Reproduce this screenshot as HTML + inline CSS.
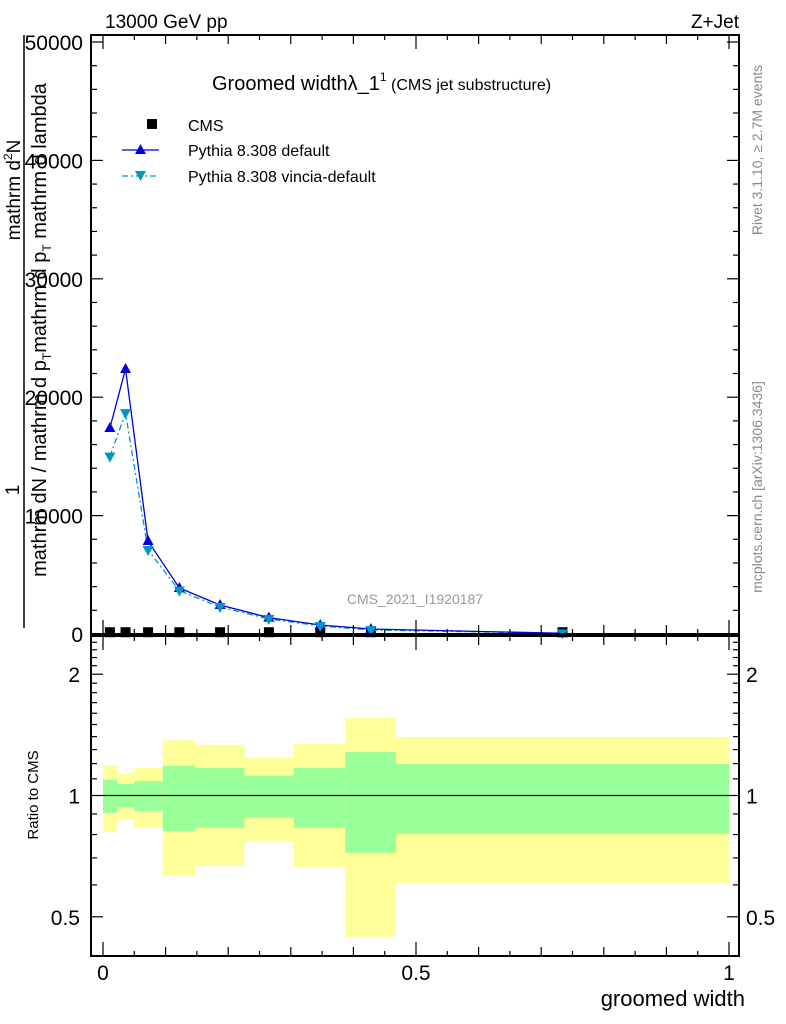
<!DOCTYPE html>
<html><head><meta charset="utf-8"><style>
html,body{margin:0;padding:0;background:#fff;}
svg{display:block;font-family:"Liberation Sans",sans-serif;}
</style></head><body>
<svg id="chart" width="786" height="1024" viewBox="0 0 786 1024" xmlns="http://www.w3.org/2000/svg">
<g id="bands"></g>
<g id="marks"></g>
<g id="axes"></g>
<text x="105" y="28" font-size="19">13000 GeV pp</text>
<text x="739" y="28" font-size="19" text-anchor="end">Z+Jet</text>
<text x="212" y="90" font-size="20">Groomed width&#955;_1<tspan font-size="12" dy="-9">1</tspan><tspan font-size="16" dy="9"> (CMS jet substructure)</tspan></text>
<g>
<rect x="147" y="119" width="10" height="10" fill="#000"/>
<text x="188" y="131" font-size="16">CMS</text>
<line x1="122" y1="150" x2="159" y2="150" stroke="#0000dd" stroke-width="1.3"/>
<polygon points="140.5,144 135,154 146,154" fill="#0000dd"/>
<text x="188" y="156" font-size="16">Pythia 8.308 default</text>
<line x1="122" y1="176" x2="159" y2="176" stroke="#0099bb" stroke-width="1.3" stroke-dasharray="6,3,2,3"/>
<polygon points="135,171 146,171 140.5,181" fill="#0099bb"/>
<text x="188" y="182" font-size="16">Pythia 8.308 vincia-default</text>
</g>
<text x="415" y="604" font-size="14" fill="#999" text-anchor="middle">CMS_2021_I1920187</text>
<text transform="translate(762,150) rotate(-90)" font-size="14" fill="#888" text-anchor="middle">Rivet 3.1.10, ≥ 2.7M events</text>
<text transform="translate(762,487) rotate(-90)" font-size="14" fill="#888" text-anchor="middle">mcplots.cern.ch [arXiv:1306.3436]</text>
<g>
<text transform="translate(20,190) rotate(-90)" font-size="19" text-anchor="middle">mathrm d<tspan font-size="12" dy="-8">2</tspan><tspan dy="8">N</tspan></text>
<text transform="translate(19,490) rotate(-90)" font-size="19" text-anchor="middle">1</text>
<line x1="24" y1="35" x2="24" y2="628" stroke="#000" stroke-width="1.5"/>
<text transform="translate(46,330) rotate(-90)" font-size="20" text-anchor="middle">mathrm dN / mathrm d p<tspan font-size="12" dy="5">T</tspan><tspan dy="-5">mathrm d p</tspan><tspan font-size="12" dy="5">T</tspan><tspan dy="-5"> mathrm d lambda</tspan></text>
</g>
<text transform="translate(38,795) rotate(-90)" font-size="15" text-anchor="middle">Ratio to CMS</text>
<text x="745" y="1006" font-size="22" text-anchor="end">groomed width</text>
</svg>
<script>
const binEdges=[0,0.0225,0.05,0.0955,0.147,0.226,0.305,0.387,0.468,1.0];
const binCenters=[0.011,0.036,0.072,0.122,0.187,0.265,0.347,0.428,0.734];
const cmsValues=[150,150,150,150,150,150,150,150,150];
const defaultValues=[17400,22380,7850,3890,2450,1380,760,420,60];
const vinciaValues=[14980,18660,7090,3660,2280,1270,680,340,50];
const yellowHi=[1.190,1.131,1.172,1.371,1.335,1.241,1.342,1.557,1.397];
const yellowLo=[0.813,0.869,0.832,0.635,0.669,0.768,0.665,0.446,0.607];
const greenHi=[1.094,1.068,1.086,1.186,1.170,1.120,1.170,1.282,1.197];
const greenLo=[0.905,0.935,0.915,0.816,0.832,0.881,0.832,0.721,0.804];
const mainYTicks=[0,10000,20000,30000,40000,50000];
const ratioYTicks=[0.5,1,2];
const xTicks=[0,0.5,1];

const NS='http://www.w3.org/2000/svg';
const X0=91,X1=739,MT=35,MB=634,RT=636,RB=956;
const xs=v=>103+626*v;
const ym=v=>634-v*0.01184;
const yr=r=>795.5-121.3*Math.log2(r);
function mk(parent,tag,attrs){const e=document.createElementNS(NS,tag);for(const k in attrs)e.setAttribute(k,attrs[k]);parent.appendChild(e);return e;}
const bands=document.getElementById('bands'),marks=document.getElementById('marks'),axes=document.getElementById('axes');

for(let i=0;i<binCenters.length;i++){
  const xa=xs(binEdges[i]),xb=xs(binEdges[i+1]);
  const y1=mk(bands,'rect',{x:xa,y:yr(yellowHi[i]),width:xb-xa,height:yr(yellowLo[i])-yr(yellowHi[i]),fill:'#ffff99'});
  
  
  const g1=mk(bands,'rect',{x:xa,y:yr(greenHi[i]),width:xb-xa,height:yr(greenLo[i])-yr(greenHi[i]),fill:'#99ff99'});
  
  
}
const one=mk(bands,'line',{x1:xs(0),x2:xs(1),y1:yr(1),y2:yr(1),stroke:'#000','stroke-width':1.2});



for(let i=0;i<binCenters.length;i++){
  const r=mk(marks,'rect',{x:xs(binCenters[i])-5,y:ym(cmsValues[i])-5,width:10,height:10,fill:'#000'});
  
  
}
const pd=binCenters.map((c,i)=>xs(c)+','+ym(defaultValues[i])).join(' ');
const pv=binCenters.map((c,i)=>xs(c)+','+ym(vinciaValues[i])).join(' ');
const lv=mk(marks,'polyline',{points:pv,fill:'none',stroke:'#0099bb','stroke-width':1.3,'stroke-dasharray':'6,3,2,3'});


const ld=mk(marks,'polyline',{points:pd,fill:'none',stroke:'#0000dd','stroke-width':1.3});


for(let i=0;i<binCenters.length;i++){
  const x=xs(binCenters[i]),y=ym(defaultValues[i]);
  const t=mk(marks,'polygon',{points:`${x},${y-6} ${x-5.5},${y+4} ${x+5.5},${y+4}`,fill:'#0000dd'});
  
  
  const y2=ym(vinciaValues[i]);
  const v=mk(marks,'polygon',{points:`${x-5.5},${y2-4} ${x+5.5},${y2-4} ${x},${y2+6}`,fill:'#0099bb'});
  
  
}
const f1=mk(axes,'rect',{x:X0,y:MT,width:X1-X0,height:MB-MT,fill:'none',stroke:'#000','stroke-width':2});


const f2=mk(axes,'rect',{x:X0,y:RT,width:X1-X0,height:RB-RT,fill:'none',stroke:'#000','stroke-width':2});


function tick(x1,y1,x2,y2){const l=mk(axes,'line',{x1,y1,x2,y2,stroke:'#000','stroke-width':1.2});

}
for(let v=0;v<=50000;v+=2000){const y=ym(v);const L=(v%10000===0)?12:6;tick(X0,y,X0+L,y);tick(X1,y,X1-L,y);}
mainYTicks.forEach(v=>{const t=mk(axes,'text',{x:83,y:ym(v)+8,'font-size':21,'text-anchor':'end'});t.textContent=String(v);

});
for(let k=0;k<=20;k++){const v=k*0.05;const x=xs(v);const L=(k%10===0)?14:(k%2===0?9:5);
tick(x,MB,x,MB-L);tick(x,MT,x,MT+L);tick(x,RB,x,RB-L);tick(x,RT,x,RT+L);}
for(let k=4;k<=24;k++){const r=k/10;const y=yr(r);if(y<RT||y>RB)continue;const L=(k===5||k===10||k===20)?12:6;tick(X0,y,X0+L,y);tick(X1,y,X1-L,y);}
ratioYTicks.forEach(r=>{const t=mk(axes,'text',{x:80,y:yr(r)+8,'font-size':21,'text-anchor':'end'});t.textContent=String(r);


const t2=mk(axes,'text',{x:746,y:yr(r)+8,'font-size':21});t2.textContent=String(r);

});
xTicks.forEach(v=>{const t=mk(axes,'text',{x:xs(v),y:980,'font-size':21,'text-anchor':'middle'});t.textContent=String(v);

});
</script>
</body></html>
